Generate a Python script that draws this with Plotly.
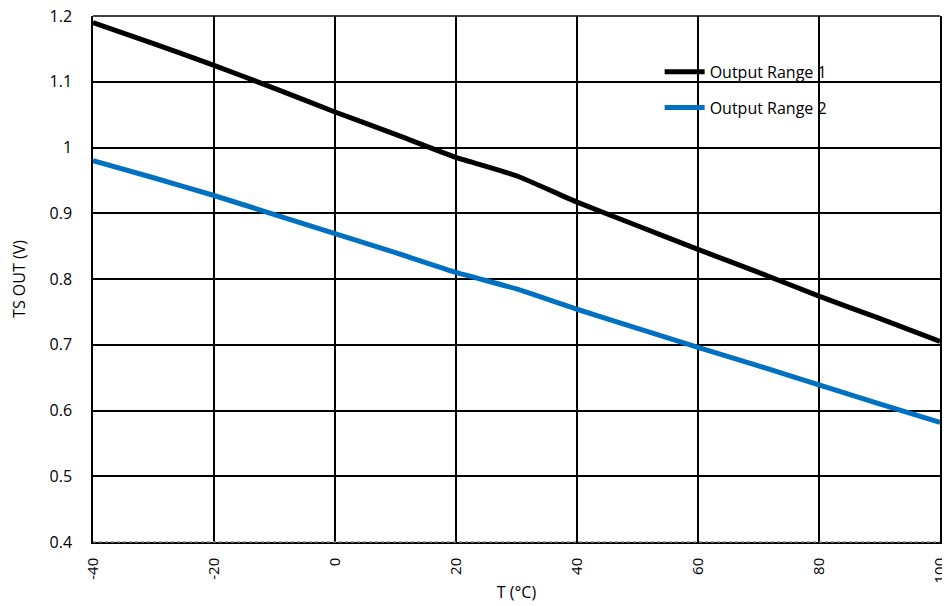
import plotly.graph_objects as go

temps = [-40, -30, -20, -10, 0, 10, 20, 30, 40, 50, 60, 70, 80, 90, 100]
range1 = [1.190, 1.158, 1.125, 1.090, 1.054, 1.020, 0.985, 0.957, 0.917, 0.881, 0.845, 0.810, 0.774, 0.740, 0.705]
range2 = [0.980, 0.954, 0.927, 0.898, 0.869, 0.840, 0.810, 0.785, 0.754, 0.725, 0.696, 0.668, 0.639, 0.610, 0.582]

series_names = ["Output Range 1", "Output Range 2"]
series_colors = ["#000000", "#0070C0"]

x_ticks = [-40, -20, 0, 20, 40, 60, 80, 100]
x_ticktext = ["-40", "-20", "0", "20", "40", "60", "80", "100"]
y_ticks = [0.4, 0.5, 0.6, 0.7, 0.8, 0.9, 1.0, 1.1, 1.2]
y_ticktext = ["0.4", "0.5", "0.6", "0.7", "0.8", "0.9", "1", "1.1", "1.2"]

FONT = "Open Sans"

fig = go.Figure()
for i, (name, ys, col) in enumerate(zip(series_names, [range1, range2], series_colors)):
    fig.add_trace(go.Scatter(
        x=temps, y=ys, mode="lines", name=name, legendgroup=f"g{i}",
        line=dict(color=col, width=5, shape="spline", smoothing=0.4),
    ))

fig.update_layout(
    width=942, height=598,
    margin=dict(l=85, r=10, t=8, b=64, autoexpand=False),
    paper_bgcolor="white", plot_bgcolor="white",
    font=dict(family=FONT, size=16, color="#000000"),
    showlegend=True,
    legend=dict(
        x=0.669, y=0.926, xanchor="left", yanchor="top",
        bgcolor="rgba(0,0,0,0)", borderwidth=0,
        font=dict(family=FONT, size=16, color="#000000"),
        traceorder="grouped", tracegroupgap=12, itemwidth=40,
    ),
    shapes=[
        dict(type="rect", xref="paper", yref="paper", x0=0.658, x1=0.987, y0=0.745, y1=0.945,
             fillcolor="white", line=dict(width=0), layer="between"),
        dict(type="line", xref="paper", yref="paper", x0=0, x1=1, y0=1, y1=1,
             line=dict(color="#000000", width=1.5)),
        dict(type="line", xref="paper", yref="paper", x0=0, x1=1, y0=0, y1=0,
             line=dict(color="#888888", width=1.5, dash="dot")),
    ],
)

fig.update_xaxes(
    range=[-40, 100], tickvals=x_ticks, ticktext=x_ticktext, tickangle=-90,
    automargin=False, ticklabeloverflow="allow",
    showgrid=True, gridcolor="#000000", gridwidth=1.5,
    showline=True, linecolor="#000000", linewidth=1.5, mirror=False,
    zeroline=False, ticks="", ticklabelstandoff=8,
    tickfont=dict(family=FONT, size=15),
    title=dict(text="T (°C)", font=dict(family=FONT, size=16), standoff=4),
)
fig.update_yaxes(
    range=[0.4, 1.2], tickvals=y_ticks, ticktext=y_ticktext,
    automargin=False, ticklabeloverflow="allow",
    showgrid=True, gridcolor="#000000", gridwidth=1.5,
    showline=True, linecolor="#000000", linewidth=1.5, mirror=True,
    zeroline=False, ticks="", ticklabelstandoff=16,
    tickfont=dict(family=FONT, size=16),
    title=dict(text="TS OUT (V)", font=dict(family=FONT, size=16), standoff=22),
)

fig.write_html("out.html")
